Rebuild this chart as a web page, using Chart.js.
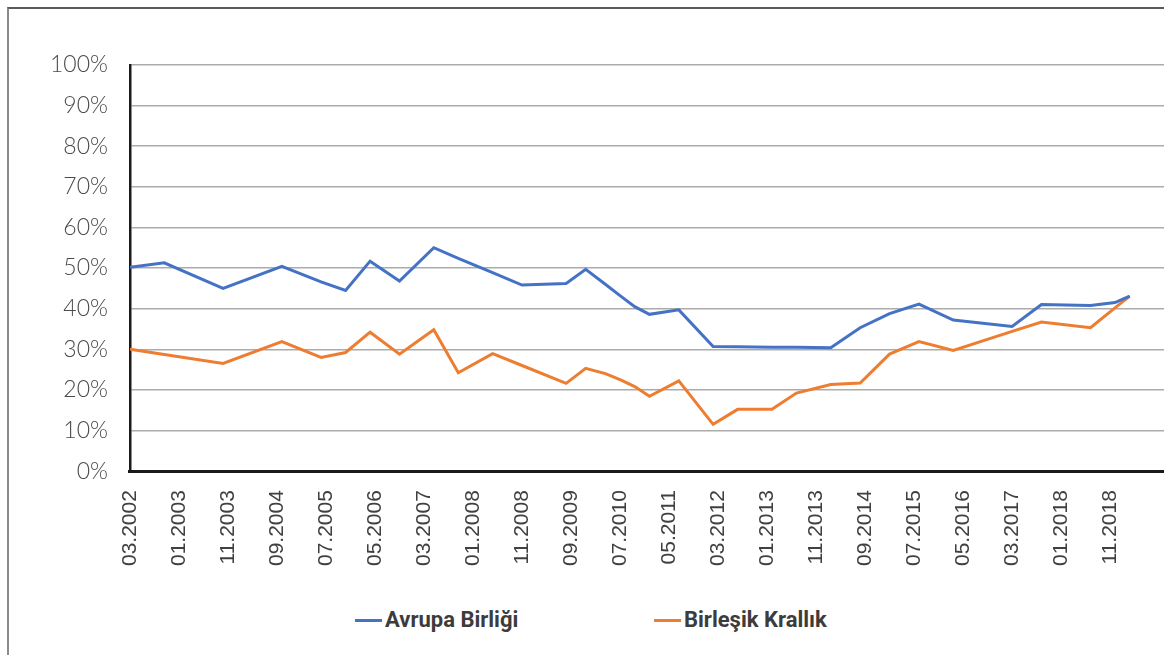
<!DOCTYPE html>
<html lang="tr">
<head>
  <meta charset="UTF-8" />
  <title>Avrupa Birliği / Birleşik Krallık</title>
  <script src="https://cdn.jsdelivr.net/npm/chart.js"></script>
  <style>
    html, body { margin: 0; padding: 0; background: #fff; overflow: hidden; }
    body { width: 1164px; height: 655px; position: relative; }
    .frame {
      position: absolute; left: 7px; top: 7px; width: 1200px; height: 700px;
      border-top: 2px solid #5a5a5a; border-left: 2px solid #8a8a8a;
    }
    .chart-box { position: absolute; left: 0; top: 0; width: 1164px; height: 600px; }
    .legend { position: absolute; top: 607px; font-family: Roboto, sans-serif; font-weight: 700; font-size: 22px; color: #3c3c3c; white-space: nowrap; }
    .legend span.swatch { display: inline-block; width: 27px; height: 3px; vertical-align: middle; margin-right: 3px; position: relative; top: -1px; }
  </style>
</head>
<body>
<div class="frame"></div>
<div class="chart-box"><canvas id="chart"></canvas></div>
<div class="legend" style="left:355px"><span class="swatch" style="background:#4472C4"></span>Avrupa Birliği</div>
<div class="legend" style="left:654px"><span class="swatch" style="background:#ED7D31"></span>Birleşik Krallık</div>

<script>
  // survey dates (MM.YYYY) and shares in %
  const dates = ["03.2002", "10.2002", "10.2003", "10.2004", "06.2005", "11.2005", "04.2006", "10.2006",
    "05.2007", "10.2007", "05.2008", "11.2008", "08.2009", "12.2009", "04.2010", "07.2010", "10.2010",
    "01.2011", "07.2011", "02.2012", "07.2012", "02.2013", "07.2013", "02.2014", "08.2014", "02.2015",
    "08.2015", "03.2016", "03.2017", "09.2017", "07.2018", "12.2018", "03.2019"];
  const euValues = [50.2, 51.3, 45.0, 50.4, 46.6, 44.5, 51.7, 46.8,
    55.0, 52.4, 48.9, 45.8, 46.2, 49.7, 46.0, 43.2, 40.5,
    38.6, 39.7, 30.7, 30.6, 30.5, 30.5, 30.4, 35.3, 38.8,
    41.1, 37.2, 35.6, 41.0, 40.8, 41.5, 43.1];
  const ukValues = [30.0, 28.7, 26.5, 31.9, 28.0, 29.2, 34.2, 28.8,
    34.8, 24.2, 28.9, 26.0, 21.6, 25.3, 24.0, 22.5, 20.8,
    18.4, 22.2, 11.5, 15.2, 15.2, 19.2, 21.3, 21.7, 28.8,
    31.9, 29.7, 34.4, 36.7, 35.3, 40.2, 43.1];
  const yTicks = [0, 10, 20, 30, 40, 50, 60, 70, 80, 90, 100];

  const startYear = 2002, startMonth = 3;
  function monthIndex(s) {
    const [m, y] = s.split(".").map(Number);
    return (y - startYear) * 12 + (m - startMonth);
  }
  function monthLabel(v) {
    const total = startYear * 12 + (startMonth - 1) + v;
    const y = Math.floor(total / 12), m = total % 12 + 1;
    return String(m).padStart(2, "0") + "." + y;
  }

  const euData = dates.map((d, i) => ({ x: monthIndex(d), y: euValues[i] }));
  const ukData = dates.map((d, i) => ({ x: monthIndex(d), y: ukValues[i] }));

  new Chart(document.getElementById("chart"), {
    type: "line",
    data: {
      datasets: [
        { label: "Avrupa Birliği", data: euData, borderColor: "#4472C4", borderWidth: 3, pointRadius: 0, tension: 0 },
        { label: "Birleşik Krallık", data: ukData, borderColor: "#ED7D31", borderWidth: 3, pointRadius: 0, tension: 0 }
      ]
    },
    options: {
      responsive: true,
      maintainAspectRatio: false,
      animation: false,
      layout: { padding: { left: 28, top: 65, right: 0, bottom: 15 } },
      plugins: { legend: { display: false }, tooltip: { enabled: false } },
      scales: {
        x: {
          type: "linear",
          min: 0,
          max: 211,
          afterBuildTicks: (axis) => {
            axis.ticks = axis.ticks.filter(t => t.value % 10 === 0 && t.value <= 200);
          },
          ticks: {
            stepSize: 10,
            minRotation: 90,
            maxRotation: 90,
            padding: 19,
            color: "#404040",
            font: { family: "'Liberation Sans', Arial, sans-serif", size: 21 },
            callback: (v) => monthLabel(v)
          },
          grid: { display: false, drawTicks: false },
          border: { display: true, color: "#1a1a1a", width: 3 }
        },
        y: {
          min: 0,
          max: 100,
          afterBuildTicks: (axis) => {
            axis.ticks = yTicks.map(v => ({ value: v }));
          },
          ticks: {
            color: "#4a4a4a",
            padding: 22,
            font: { family: "Lato, sans-serif", size: 23, weight: 300 },
            callback: (v) => v + "%"
          },
          grid: { color: "#ababab", lineWidth: 1.5, drawTicks: false },
          border: { display: true, color: "#1a1a1a", width: 2.5 }
        }
      }
    }
  });
</script>
</body>
</html>
